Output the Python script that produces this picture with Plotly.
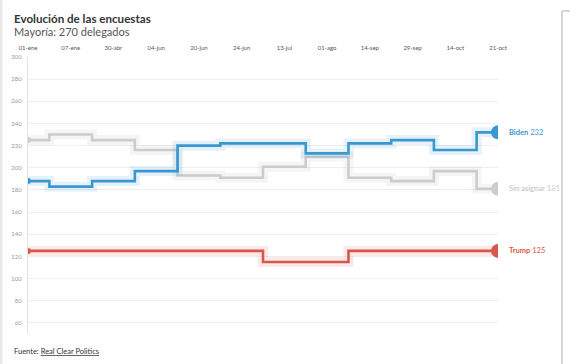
import plotly.graph_objects as go

fechas = ["01-ene", "07-ene", "30-abr", "04-jun", "20-jun", "24-jun",
          "13-jul", "01-ago", "14-sep", "29-sep", "14-oct", "21-oct"]
biden = [188, 183, 188, 197, 220, 222, 222, 213, 222, 225, 216, 232]
sin_asignar = [225, 230, 225, 216, 193, 191, 201, 210, 191, 188, 197, 181]
trump = [125, 125, 125, 125, 125, 125, 115, 115, 125, 125, 125, 125]
y_ticks = [60, 80, 100, 120, 140, 160, 180, 200, 220, 240, 260, 280, 300]

series = [
    ("Sin asignar", sin_asignar, "#cccccc", "rgba(200,200,200,0.18)"),
    ("Trump", trump, "#d9574a", "rgba(217,87,74,0.13)"),
    ("Biden", biden, "#3a97cf", "rgba(58,151,207,0.13)"),
]

W, H = 570, 364
L, R, T, B = 28, 72, 57, 30
pw, ph = W - L - R, H - T - B


def px(x):
    return (x - L) / pw


def py(y):
    return (H - B - y) / ph


fig = go.Figure()
for name, vals, col, glow in series:
    fig.add_trace(go.Scatter(x=fechas, y=vals, mode="lines", line=dict(shape="hvh", width=10, color=glow),
                             hoverinfo="skip", showlegend=False))
    fig.add_trace(go.Scatter(x=fechas, y=vals, mode="lines", line=dict(shape="hvh", width=2.6, color=col),
                             name=name, showlegend=False))
    fig.add_trace(go.Scatter(x=[fechas[0]], y=[vals[0]], mode="markers",
                             marker=dict(size=6, color=col), showlegend=False, hoverinfo="skip"))
    fig.add_trace(go.Scatter(x=[fechas[-1]], y=[vals[-1]], mode="markers",
                             marker=dict(size=14, color=col), showlegend=False, hoverinfo="skip"))
    fig.add_annotation(x=fechas[-1], y=vals[-1], xref="x", yref="y", xanchor="left", yanchor="middle",
                       xshift=9, showarrow=False,
                       text=f"<b>{name}</b> {vals[-1]}",
                       font=dict(size=7.5, color=col, family="Lato"))

fig.add_annotation(x=px(12), y=py(18), xref="paper", yref="paper", xanchor="left", yanchor="middle",
                   showarrow=False, text="<b>Evolución de las encuestas</b>",
                   font=dict(size=11.6, color="#333333", family="Lato"))
fig.add_annotation(x=px(12), y=py(31), xref="paper", yref="paper", xanchor="left", yanchor="middle",
                   showarrow=False, text="Mayoría: 270 delegados",
                   font=dict(size=11, color="#555555", family="Lato"))
fig.add_annotation(x=px(12), y=py(351), xref="paper", yref="paper", xanchor="left", yanchor="middle",
                   showarrow=False, text="Fuente: <u>Real Clear Politics</u>",
                   font=dict(size=7.5, color="#333333", family="Lato"))

fig.add_shape(type="rect", xref="paper", yref="paper", x0=px(0), x1=px(2.5), y0=py(0), y1=py(H),
              fillcolor="#eaeaea", line=dict(width=0))
fig.add_shape(type="line", xref="paper", yref="paper", x0=px(562), x1=px(562), y0=py(11), y1=py(H),
              line=dict(color="#d6d6d6", width=2))
fig.add_shape(type="line", xref="paper", yref="paper", x0=px(562), x1=px(W), y0=py(11), y1=py(11),
              line=dict(color="#d6d6d6", width=2))

fig.update_layout(
    width=W, height=H,
    margin=dict(l=L, r=R, t=T, b=B),
    paper_bgcolor="white", plot_bgcolor="white",
    font=dict(family="Lato"),
    xaxis=dict(type="category", side="top", range=[0, len(fechas) - 1], showgrid=False,
               tickfont=dict(size=6, color="#555555"), ticks="", showline=False, zeroline=False,
               ticklabelstandoff=5),
    yaxis=dict(range=[50, 300], tickvals=y_ticks, showgrid=True, gridcolor="#eeeeee", gridwidth=1,
               tickfont=dict(size=6, color="#999999"), showline=True, linecolor="#e3e3e3", linewidth=1,
               zeroline=False, ticks="", ticklabelstandoff=4),
)
fig.write_html("out.html", config={"displayModeBar": False},
               post_script="document.body.style.margin='0';")
